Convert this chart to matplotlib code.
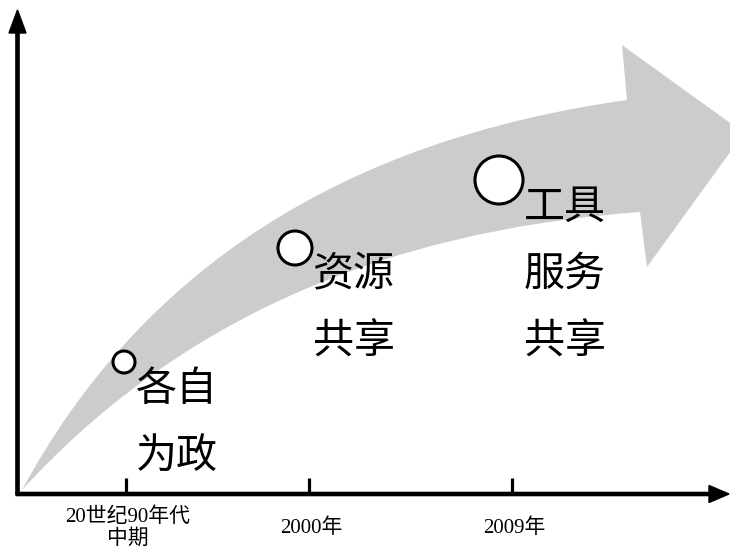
import numpy as np
import matplotlib.pyplot as plt
from matplotlib.path import Path
from matplotlib.patches import PathPatch, Circle

plt.rcParams['font.family'] = ['Noto Sans CJK SC', 'DejaVu Sans']

# stages along the time axis (pixel scale of the drawing)
tick_x = [126, 309, 512]
tick_labels = ['20世纪90年代\n中期', '2000年', '2009年']

circle_x = [124, 295, 499]
circle_y = [362, 248, 180]
circle_r = [11, 17, 24]
stage_texts = [['各自', '为政'], ['资源', '共享'], ['工具', '服务', '共享']]

# big grey arrow outline
tail = (22, 490)
upper_ctrl = (200, 160)
neck_top = (627, 100)
barb_top = (622, 45)
tip = (744, 133)
barb_bot = (647, 267)
neck_bot = (640, 212)
lower_ctrl = (250, 240)

fig = plt.figure(figsize=(7.3, 5.49), dpi=100)
ax = fig.add_axes([0, 0, 1, 1])
ax.set_xlim(0, 730)
ax.set_ylim(549, 0)
ax.axis('off')

verts = [tail, upper_ctrl, neck_top, barb_top, tip, barb_bot, neck_bot,
         lower_ctrl, tail, tail]
codes = [Path.MOVETO, Path.CURVE3, Path.CURVE3, Path.LINETO, Path.LINETO,
         Path.LINETO, Path.LINETO, Path.CURVE3, Path.CURVE3, Path.CLOSEPOLY]
ax.add_patch(PathPatch(Path(verts, codes), fc='#cccccc', ec='none', zorder=1))

# axes with arrow heads
ax.arrow(17.5, 494, 0, -484, width=3.2, head_width=17, head_length=23,
         length_includes_head=True, fc='k', ec='k', zorder=3)
ax.arrow(16, 494, 713, 0, width=3.2, head_width=17, head_length=20,
         length_includes_head=True, fc='k', ec='k', zorder=3)

for x, lab in zip(tick_x, tick_labels):
    ax.plot([x, x], [478, 494], color='k', lw=2.3, solid_capstyle='butt', zorder=3)
    ax.text(x + 2, 528, lab, ha='center', va='center', fontsize=15,
            linespacing=1.2, family=['Liberation Serif', 'Noto Sans CJK SC'])

for cx, cy, r, lines in zip(circle_x, circle_y, circle_r, stage_texts):
    ax.add_patch(Circle((cx, cy), r, fc='white', ec='k', lw=2.2, zorder=4))
    for i, s in enumerate(lines):
        ax.text(cx + r + 1, cy + 27 + i * 67.5, s, ha='left', va='center',
                fontsize=29.5, color='k', zorder=5)

fig.savefig('out.png', dpi=100)
